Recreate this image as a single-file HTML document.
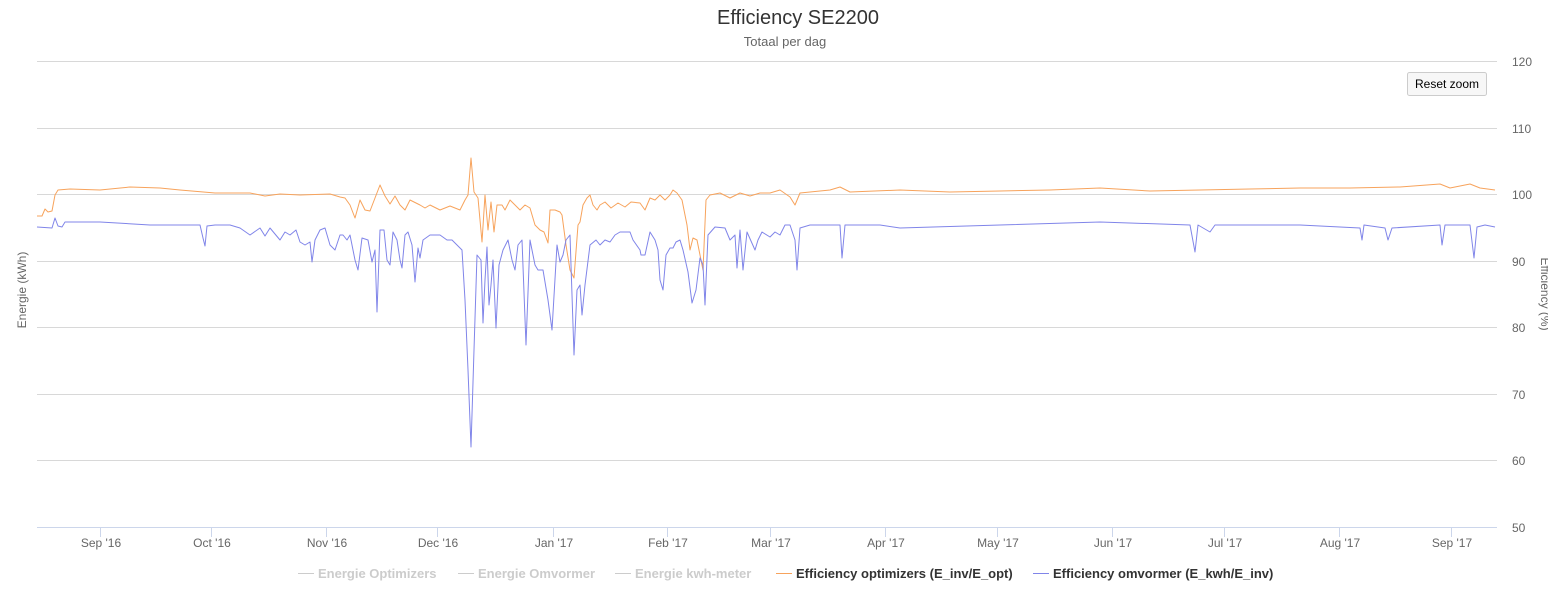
<!DOCTYPE html>
<html><head><meta charset="utf-8"><style>
body{margin:0;background:#fff;font-family:"Liberation Sans",sans-serif;}
svg text{font-family:"Liberation Sans",sans-serif;}
</style></head><body>
<svg width="1548" height="595" xmlns="http://www.w3.org/2000/svg">
<text x="798" y="24" text-anchor="middle" font-size="20" fill="#333">Efficiency SE2200</text>
<text x="785" y="46" text-anchor="middle" font-size="13" fill="#666">Totaal per dag</text>
<g stroke="#d8d8d8" stroke-width="1">
<line x1="37" x2="1497" y1="61.5" y2="61.5"/><line x1="37" x2="1497" y1="128.5" y2="128.5"/>
<line x1="37" x2="1497" y1="194.5" y2="194.5"/><line x1="37" x2="1497" y1="261.5" y2="261.5"/>
<line x1="37" x2="1497" y1="327.5" y2="327.5"/><line x1="37" x2="1497" y1="394.5" y2="394.5"/>
<line x1="37" x2="1497" y1="460.5" y2="460.5"/>
</g>
<line x1="37" x2="1497" y1="527.5" y2="527.5" stroke="#ccd6eb"/>
<g stroke="#ccd6eb">
<line x1="100.5" x2="100.5" y1="527" y2="537"/><line x1="211.5" x2="211.5" y1="527" y2="537"/>
<line x1="326.5" x2="326.5" y1="527" y2="537"/><line x1="437.5" x2="437.5" y1="527" y2="537"/>
<line x1="553.5" x2="553.5" y1="527" y2="537"/><line x1="667.5" x2="667.5" y1="527" y2="537"/>
<line x1="770.5" x2="770.5" y1="527" y2="537"/><line x1="885.5" x2="885.5" y1="527" y2="537"/>
<line x1="997.5" x2="997.5" y1="527" y2="537"/><line x1="1112.5" x2="1112.5" y1="527" y2="537"/>
<line x1="1224.5" x2="1224.5" y1="527" y2="537"/><line x1="1339.5" x2="1339.5" y1="527" y2="537"/>
<line x1="1451.5" x2="1451.5" y1="527" y2="537"/>
</g>
<g font-size="12" fill="#666">
<text x="1512" y="66">120</text><text x="1512" y="133">110</text><text x="1512" y="199">100</text>
<text x="1512" y="266">90</text><text x="1512" y="332">80</text><text x="1512" y="399">70</text>
<text x="1512" y="465">60</text><text x="1512" y="532">50</text>
</g>
<g font-size="12" fill="#666" text-anchor="middle">
<text x="101" y="547">Sep '16</text><text x="212" y="547">Oct '16</text><text x="327" y="547">Nov '16</text>
<text x="438" y="547">Dec '16</text><text x="554" y="547">Jan '17</text><text x="668" y="547">Feb '17</text>
<text x="771" y="547">Mar '17</text><text x="886" y="547">Apr '17</text><text x="998" y="547">May '17</text>
<text x="1113" y="547">Jun '17</text><text x="1225" y="547">Jul '17</text><text x="1340" y="547">Aug '17</text>
<text x="1452" y="547">Sep '17</text>
</g>
<text transform="translate(26,290) rotate(-90)" text-anchor="middle" font-size="12" fill="#666">Energie (kWh)</text>
<text transform="translate(1541,294) rotate(90)" text-anchor="middle" font-size="12" fill="#666">Efficiency (%)</text>
<rect x="1407.5" y="72.5" width="79" height="23" rx="2" fill="#f7f7f7" stroke="#ccc"/>
<text x="1447" y="88" text-anchor="middle" font-size="12" fill="#000">Reset zoom</text>
<polyline fill="none" stroke="#f7a35c" stroke-width="1" stroke-linejoin="round" points="37,216 42,216 45,209 48,212 52,211 55,195 58,190 70,189 100,190 130,187 160,188 180,190 215,193 250,193 265,196 280,194 300,195 330,194 340,197 345,198 350,205 355,218 360,200 365,210 370,211 375,198 380,185 385,196 390,204 395,196 400,205 405,210 410,200 420,205 425,208 430,205 440,210 450,206 460,210 465,200 468,195 471,158 474,192 478,198 482,242 485,195 488,230 491,202 494,232 497,205 502,205 505,210 510,200 515,205 520,210 525,205 530,208 535,225 540,230 544,232 548,243 550,210 555,210 560,212 562,215 566,245 570,270 574,278 578,225 580,222 583,205 587,198 590,195 593,205 597,210 600,205 605,202 611,208 618,203 625,207 631,202 640,203 645,210 650,198 655,200 660,195 665,200 670,195 673,190 677,193 682,200 687,225 690,250 693,238 697,240 700,255 703,270 706,200 710,195 720,193 730,198 740,193 750,196 760,193 770,193 780,190 790,197 795,205 800,193 820,191 830,190 840,187 850,192 900,190 950,192 1000,191 1050,190 1100,188 1150,191 1200,190 1250,189 1300,188 1350,188 1400,187 1440,184 1450,188 1460,186 1470,184 1480,188 1495,190"/>
<polyline fill="none" stroke="#8085e9" stroke-width="1" stroke-linejoin="round" points="37,227 52,228 55,218 58,226 62,227 65,222 100,222 150,225 200,225 203,238 205,246 207,226 215,225 230,225 240,228 250,235 260,228 265,236 270,228 280,240 285,232 290,235 296,230 300,242 305,245 310,242 312,262 315,240 320,230 325,228 330,245 335,250 340,235 343,235 347,240 350,235 355,260 358,270 362,238 368,240 372,262 375,250 377,312 380,230 384,230 387,260 390,265 393,232 397,240 400,260 402,268 405,235 408,232 412,245 415,282 418,248 420,258 423,240 430,235 440,235 447,240 452,240 457,245 462,250 465,300 468,370 471,447 474,350 477,255 481,260 483,323 485,280 487,247 489,305 491,285 493,260 496,328 499,265 503,250 508,240 512,260 515,270 518,245 522,240 526,345 530,240 535,265 538,270 543,270 548,300 552,330 557,245 560,262 563,255 566,240 570,235 574,355 577,290 580,285 582,315 585,285 590,245 596,240 600,245 605,240 610,242 615,235 620,232 630,232 633,240 640,250 641,255 645,255 650,232 655,240 658,250 660,280 663,290 666,255 670,248 673,248 676,242 680,240 683,250 688,272 692,303 696,290 700,258 703,265 705,305 708,235 715,227 725,228 730,240 735,235 737,268 740,230 743,270 747,232 755,250 758,240 762,232 770,237 775,232 780,235 785,225 790,225 795,240 797,270 800,228 810,225 840,225 842,258 845,225 880,225 900,228 1000,225 1100,222 1190,225 1195,252 1198,225 1210,232 1215,225 1300,225 1360,228 1362,240 1364,225 1385,228 1388,240 1392,228 1440,225 1442,245 1445,225 1470,225 1474,258 1477,227 1485,225 1495,227"/>
<g font-size="13" font-weight="bold">
<line x1="298" x2="314" y1="573.5" y2="573.5" stroke="#ccc"/><text x="318" y="578" fill="#ccc">Energie Optimizers</text>
<line x1="458" x2="474" y1="573.5" y2="573.5" stroke="#ccc"/><text x="478" y="578" fill="#ccc">Energie Omvormer</text>
<line x1="615" x2="631" y1="573.5" y2="573.5" stroke="#ccc"/><text x="635" y="578" fill="#ccc">Energie kwh-meter</text>
<line x1="776" x2="792" y1="573.5" y2="573.5" stroke="#f7a35c"/><text x="796" y="578" fill="#333">Efficiency optimizers (E_inv/E_opt)</text>
<line x1="1033" x2="1049" y1="573.5" y2="573.5" stroke="#8085e9"/><text x="1053" y="578" fill="#333">Efficiency omvormer (E_kwh/E_inv)</text>
</g>
</svg>
</body></html>
